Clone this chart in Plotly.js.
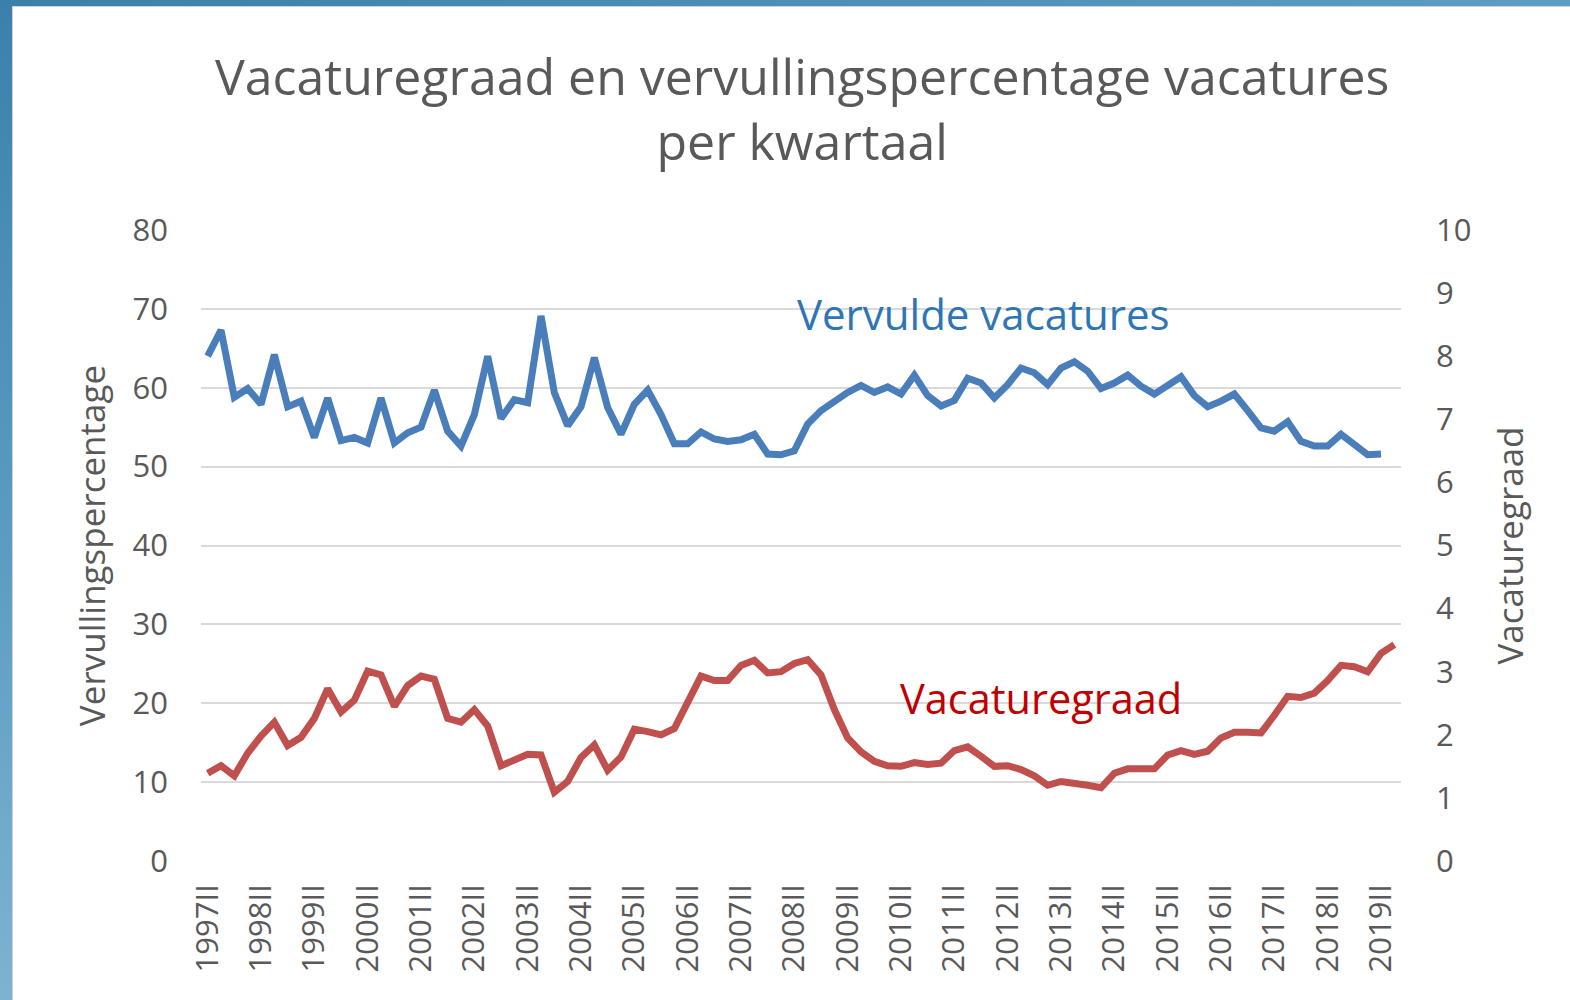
<!DOCTYPE html>
<html>
<head>
<meta charset="utf-8">
<script src="https://cdn.plot.ly/plotly-3.0.1.min.js"></script>
<style>
  html, body { margin: 0; padding: 0; width: 1570px; height: 1000px; overflow: hidden; }
  body { background: linear-gradient(160deg, #3b80ab 0%, #5c9cc2 35%, #a9cfe2 100%); position: relative; }
  #frame { position: absolute; left: 12px; top: 6px; width: 1558px; height: 994px; background: #ffffff; border-left: 1px solid #d0d0d0; border-top: 1px solid #d0d0d0; }
  #chart { position: absolute; left: 1px; top: 1px; width: 1557px; height: 993px; }
</style>
</head>
<body>
<div id="frame"><div id="chart"></div></div>
<script>
// Quarter categories: 1997 II .. 2019 III
const romanQuarters = ['I', 'II', 'III', 'IV'];
const firstYear = 1997;
const firstQuarterIndex = 1; // II
const quarterCount = 90;
const categories = [];
for (let i = 0; i < quarterCount; i++) {
  const q = firstQuarterIndex + i;
  categories.push(String(firstYear + Math.floor(q / 4)) + romanQuarters[q % 4]);
}
const tickLabels = categories.filter(c => /^\d{4}II$/.test(c));

// Vervullingspercentage (left axis, %), 1997II .. 2019II
const vervulling = [
  64.0, 67.3, 58.8, 59.9, 57.9, 64.2, 57.6, 58.3, 53.7, 58.7,
  53.3, 53.7, 53.0, 58.7, 53.0, 54.3, 55.0, 59.7, 54.5, 52.6,
  56.6, 64.0, 56.1, 58.5, 58.1, 69.1, 59.4, 55.2, 57.6,
  63.8, 57.5, 54.1, 57.9, 59.7, 56.6, 52.9, 52.9, 54.4, 53.5,
  53.2, 53.4, 54.1, 51.6, 51.5, 52.0, 55.4, 57.1, 58.3, 59.4,
  60.3, 59.4, 60.1, 59.2, 61.6, 59.0, 57.7, 58.4, 61.2, 60.6, 58.7,
  60.4,
  62.5, 61.9, 60.4, 62.5, 63.3, 62.1, 59.9, 60.6, 61.6, 60.2,
  59.2, 60.4, 61.4, 59.0, 57.6, 58.3, 59.2, 57.1, 54.9, 54.5,
  55.7, 53.2, 52.6, 52.6, 54.1, 52.8, 51.5, 51.6
];

// Vacaturegraad (right axis), 1997II .. 2019III
const vacaturegraad = [
  1.39, 1.51, 1.35, 1.71, 1.98, 2.20, 1.83, 1.96, 2.26, 2.73,
  2.36, 2.55, 3.01, 2.95, 2.45, 2.78, 2.93, 2.88, 2.26, 2.20,
  2.40, 2.14, 1.51, 1.61, 1.69, 1.68, 1.09, 1.26, 1.64,
  1.84, 1.44, 1.65, 2.09, 2.05, 2.00, 2.10, 2.50, 2.93, 2.86,
  2.86, 3.10, 3.18, 2.98, 3.00, 3.13, 3.19, 2.95, 2.40, 1.95,
  1.73, 1.58, 1.51, 1.50, 1.56, 1.53, 1.55, 1.75, 1.81, 1.66, 1.50,
  1.51, 1.45, 1.35, 1.20, 1.26, 1.24, 1.20, 1.16, 1.39, 1.46,
  1.46, 1.46, 1.68, 1.75, 1.69, 1.74, 1.95, 2.04, 2.04, 2.03,
  2.31, 2.61, 2.59, 2.66, 2.86, 3.10, 3.08, 3.00, 3.29, 3.43
];

const grey = '#595959';
const fontFam = '"Open Sans", "Noto Sans", sans-serif';

const traces = [
  {
    x: categories.slice(0, vervulling.length),
    y: vervulling,
    type: 'scatter', mode: 'lines',
    line: { color: '#4a7ebb', width: 7 },
    name: 'Vervulde vacatures',
    yaxis: 'y'
  },
  {
    x: categories,
    y: vacaturegraad,
    type: 'scatter', mode: 'lines',
    line: { color: '#c0504d', width: 7 },
    name: 'Vacaturegraad',
    yaxis: 'y2'
  }
];

const layout = {
  width: 1557, height: 993,
  margin: { l: 187, r: 170, t: 222, b: 140 },
  paper_bgcolor: '#ffffff', plot_bgcolor: '#ffffff',
  showlegend: false,
  font: { family: fontFam, color: grey },
  xaxis: {
    type: 'category',
    categoryorder: 'array', categoryarray: categories,
    range: [-0.5, categories.length - 0.5],
    tickmode: 'array', tickvals: tickLabels, ticktext: tickLabels,
    tickangle: -90,
    tickfont: { family: fontFam, size: 31, color: grey },
    showgrid: false, zeroline: false, showline: false, ticks: '',
    ticklabelstandoff: 16
  },
  yaxis: {
    range: [0, 80], dtick: 10, tick0: 0,
    gridcolor: '#d9d9d9', gridwidth: 2,
    zeroline: false, showline: false, ticks: '',
    tickfont: { family: fontFam, size: 31, color: grey },
    ticklabelstandoff: 32,
    title: { text: 'Vervullingspercentage', font: { family: fontFam, size: 35, color: grey }, standoff: 16 }
  },
  yaxis2: {
    overlaying: 'y', side: 'right',
    range: [0, 10], dtick: 1, tick0: 0,
    showgrid: false, zeroline: false, showline: false, ticks: '',
    tickfont: { family: fontFam, size: 31, color: grey },
    ticklabelstandoff: 34,
    title: { text: 'Vacaturegraad', font: { family: fontFam, size: 35, color: grey }, standoff: 28 }
  },
  annotations: [
    {
      text: 'Vacaturegraad en vervullingspercentage vacatures<br>per kwartaal',
      xref: 'paper', yref: 'paper',
      x: 0.501, y: 1.192, xanchor: 'center', yanchor: 'middle', showarrow: false,
      font: { family: fontFam, size: 50, color: grey }
    },
    {
      text: 'Vervulde vacatures', xref: 'paper', yref: 'paper',
      x: 0.652, y: 0.867, xanchor: 'center', yanchor: 'middle', showarrow: false,
      font: { family: fontFam, size: 42, color: '#2e75b6' }
    },
    {
      text: 'Vacaturegraad', xref: 'paper', yref: 'paper',
      x: 0.70, y: 0.259, xanchor: 'center', yanchor: 'middle', showarrow: false,
      font: { family: fontFam, size: 41.5, color: '#c00000' }
    }
  ]
};

Plotly.newPlot('chart', traces, layout, { displayModeBar: false, staticPlot: true });
</script>
</body>
</html>
